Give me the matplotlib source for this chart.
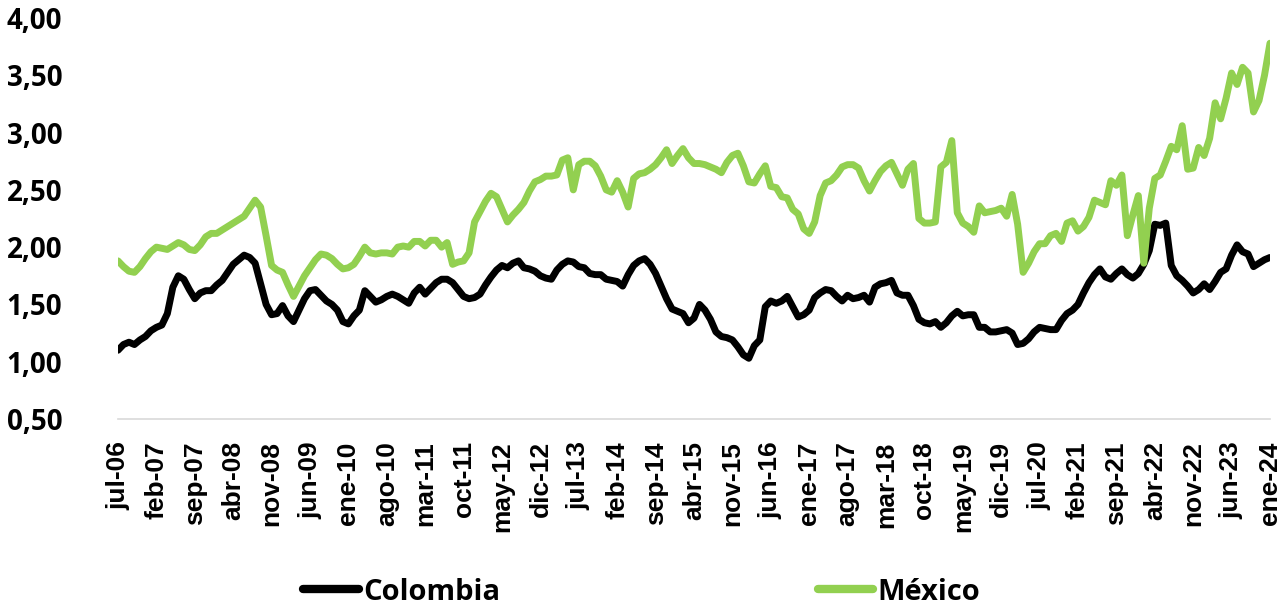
import numpy as np
import matplotlib
matplotlib.use("Agg")
import matplotlib.pyplot as plt
from matplotlib.transforms import ScaledTranslation

# monthly series, jul-06 .. ene-24
colombia = [
    1.10, 1.15, 1.17, 1.15, 1.19, 1.22, 1.27, 1.30, 1.32, 1.42,
    1.65, 1.75, 1.72, 1.63, 1.55, 1.60, 1.62, 1.62, 1.67, 1.71,
    1.78, 1.85, 1.89, 1.93, 1.91, 1.86, 1.68, 1.50, 1.41, 1.42,
    1.49, 1.40, 1.35, 1.45, 1.55, 1.62, 1.63, 1.58, 1.53, 1.50,
    1.45, 1.35, 1.33, 1.40, 1.45, 1.62, 1.57, 1.52, 1.54, 1.57,
    1.59, 1.57, 1.54, 1.51, 1.60, 1.65, 1.59, 1.64, 1.69, 1.72,
    1.72, 1.69, 1.63, 1.57, 1.55, 1.56, 1.59, 1.67, 1.74, 1.80,
    1.84, 1.82, 1.86, 1.88, 1.82, 1.81, 1.79, 1.75, 1.73, 1.72,
    1.80, 1.85, 1.88, 1.87, 1.83, 1.82, 1.77, 1.76, 1.76, 1.72,
    1.71, 1.70, 1.66, 1.76, 1.84, 1.88, 1.90, 1.85, 1.77, 1.66,
    1.55, 1.46, 1.44, 1.42, 1.34, 1.38, 1.50, 1.45, 1.37, 1.26,
    1.22, 1.21, 1.19, 1.13, 1.06, 1.03, 1.14, 1.19, 1.48, 1.53,
    1.51, 1.53, 1.57, 1.48, 1.39, 1.41, 1.45, 1.56, 1.60, 1.63,
    1.62, 1.57, 1.53, 1.58, 1.55, 1.56, 1.58, 1.52, 1.65, 1.68,
    1.69, 1.71, 1.60, 1.58, 1.58, 1.49, 1.37, 1.34, 1.33, 1.35,
    1.30, 1.34, 1.40, 1.44, 1.40, 1.41, 1.41, 1.30, 1.30, 1.26,
    1.26, 1.27, 1.28, 1.25, 1.15, 1.16, 1.20, 1.26, 1.30, 1.29,
    1.28, 1.28, 1.36, 1.42, 1.45, 1.50, 1.60, 1.69, 1.76, 1.81,
    1.74, 1.72, 1.77, 1.81, 1.76, 1.73, 1.77, 1.85, 1.97, 2.20,
    2.19, 2.21, 1.84, 1.75, 1.71, 1.66, 1.60, 1.63, 1.68, 1.63,
    1.70, 1.78, 1.81, 1.93, 2.02, 1.96, 1.94, 1.83, 1.86, 1.89,
    1.91,
]
mexico = [
    1.88, 1.83, 1.79, 1.78, 1.83, 1.90, 1.96, 2.00, 1.99, 1.98,
    2.01, 2.04, 2.02, 1.98, 1.97, 2.02, 2.09, 2.12, 2.12, 2.15,
    2.18, 2.21, 2.24, 2.27, 2.34, 2.41, 2.35, 2.10, 1.84, 1.80,
    1.78, 1.67, 1.57, 1.66, 1.75, 1.82, 1.89, 1.94, 1.93, 1.90,
    1.85, 1.81, 1.82, 1.85, 1.92, 2.00, 1.95, 1.94, 1.95, 1.95,
    1.94, 2.00, 2.01, 2.00, 2.05, 2.05, 2.01, 2.06, 2.06, 2.00,
    2.04, 1.85, 1.87, 1.88, 1.95, 2.22, 2.31, 2.40, 2.47, 2.44,
    2.33, 2.22, 2.28, 2.33, 2.39, 2.49, 2.57, 2.59, 2.62, 2.62,
    2.63, 2.76, 2.78, 2.50, 2.72, 2.75, 2.75, 2.71, 2.62, 2.50,
    2.48, 2.58, 2.48, 2.35, 2.60, 2.64, 2.65, 2.68, 2.72, 2.78,
    2.85, 2.73, 2.80, 2.86, 2.78, 2.73, 2.73, 2.72, 2.70, 2.68,
    2.65, 2.74, 2.80, 2.82, 2.71, 2.57, 2.56, 2.64, 2.71, 2.53,
    2.52, 2.44, 2.43, 2.33, 2.29, 2.16, 2.12, 2.22, 2.45, 2.56,
    2.58, 2.63, 2.70, 2.72, 2.72, 2.69, 2.58, 2.49, 2.58, 2.66,
    2.71, 2.74, 2.64, 2.54, 2.68, 2.73, 2.25, 2.21, 2.21, 2.22,
    2.70, 2.74, 2.93, 2.30, 2.21, 2.18, 2.13, 2.36, 2.30, 2.31,
    2.32, 2.34, 2.27, 2.46, 2.20, 1.78, 1.86, 1.96, 2.03, 2.03,
    2.10, 2.12, 2.05, 2.21, 2.23, 2.14, 2.18, 2.26, 2.41, 2.39,
    2.37, 2.58, 2.54, 2.63, 2.10, 2.28, 2.45, 1.86, 2.34, 2.60,
    2.63, 2.75, 2.88, 2.85, 3.06, 2.68, 2.69, 2.87, 2.80, 2.95,
    3.26, 3.12, 3.30, 3.52, 3.42, 3.57, 3.52, 3.18, 3.28, 3.50,
    3.78,
]
tick_labels = [
    "jul-06", "feb-07", "sep-07", "abr-08", "nov-08", "jun-09", "ene-10",
    "ago-10", "mar-11", "oct-11", "may-12", "dic-12", "jul-13", "feb-14",
    "sep-14", "abr-15", "nov-15", "jun-16", "ene-17", "ago-17", "mar-18",
    "oct-18", "may-19", "dic-19", "jul-20", "feb-21", "sep-21", "abr-22",
    "nov-22", "jun-23", "ene-24",
]
y_ticks = [0.5, 1.0, 1.5, 2.0, 2.5, 3.0, 3.5, 4.0]

x = np.arange(len(colombia))

fig = plt.figure(figsize=(12.81, 6.13), dpi=100)
ax = fig.add_axes([0.0921, 0.3165, 0.8993, 0.6541])

ax.plot(x, colombia, color="black", lw=5, label="Colombia", solid_capstyle="round")
ax.plot(x, mexico, color="#92D050", lw=5, label="México", solid_capstyle="round")

ax.set_xlim(0, len(x) - 1)
ax.set_ylim(0.5, 4.0)

ax.set_yticks(y_ticks)
ax.set_yticklabels([f"{v:.2f}".replace(".", ",") for v in y_ticks],
                   family="Open Sans", fontweight="bold", fontsize=20)
ax.set_xticks(np.arange(0, len(x), 7))
ax.set_xticklabels(tick_labels, rotation=90, family="Liberation Sans",
                   fontweight="bold", fontsize=19)

# nudge the rotated month labels slightly right, as in the original
shift = ScaledTranslation(0.04, 0, fig.dpi_scale_trans)
for lbl in ax.get_xticklabels():
    lbl.set_transform(lbl.get_transform() + shift)

ax.tick_params(axis="y", length=0, pad=40)
ax.tick_params(axis="x", length=0, pad=16)

for s in ["left", "right", "top"]:
    ax.spines[s].set_visible(False)
ax.spines["bottom"].set_color("#D9D9D9")
ax.spines["bottom"].set_linewidth(1.2)

leg = fig.legend(loc="center", bbox_to_anchor=(0.501, 0.034), ncol=2,
                 frameon=False, handlelength=1.9, handletextpad=0.15,
                 columnspacing=10.9,
                 prop={"family": "Open Sans", "weight": "bold", "size": 21})
for h in leg.get_lines():
    h.set_linewidth(6)

fig.savefig("out.png", dpi=100)
